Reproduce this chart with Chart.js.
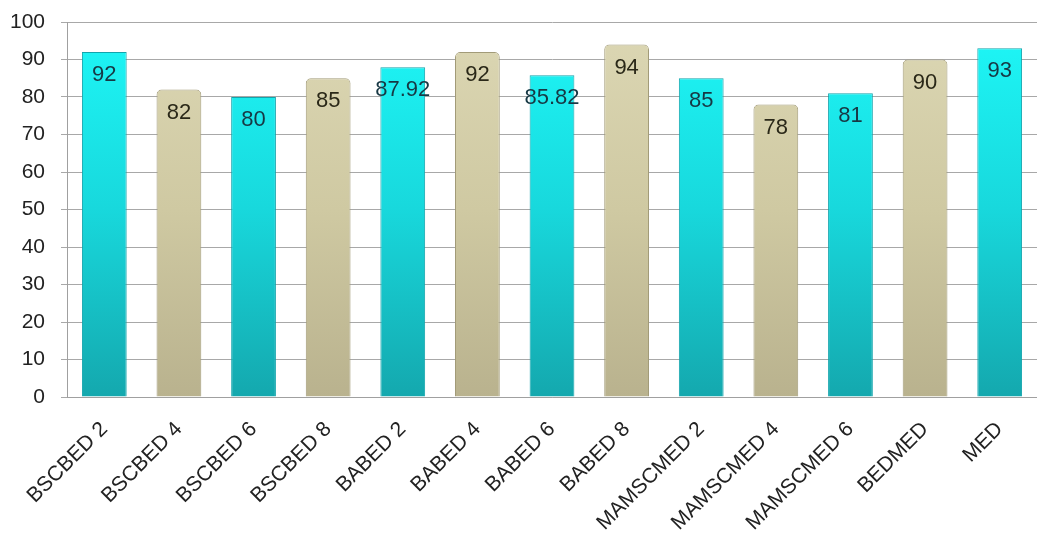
<!DOCTYPE html>
<html>
<head>
<meta charset="utf-8">
<script src="https://cdn.jsdelivr.net/npm/chart.js@4"></script>
<style>
html,body{margin:0;padding:0;background:#fff;overflow:hidden;}
#wrap{width:1037px;height:538px;}
</style>
</head>
<body>
<div id="wrap"><canvas id="c" width="1037" height="538"></canvas></div>
<script>
const categories = ["BSCBED 2","BSCBED 4","BSCBED 6","BSCBED 8","BABED 2","BABED 4","BABED 6","BABED 8","MAMSCMED 2","MAMSCMED 4","MAMSCMED 6","BEDMED","MED"];
const values = [92, 82, 80, 85, 87.92, 92, 85.82, 94, 85, 78, 81, 90, 93];
const barKinds = ["c","b","c","b","c","b","c","b","c","b","c","b","c"];
const yTicks = [0,10,20,30,40,50,60,70,80,90,100];

const FONT = "'Liberation Sans', Arial, sans-serif";

function barFill(ctx) {
  const chart = ctx.chart;
  const area = chart.chartArea;
  if (!area) return '#20e0e0';
  const kind = barKinds[ctx.dataIndex];
  const g = chart.ctx.createLinearGradient(0, area.top, 0, area.bottom);
  if (kind === 'c') {
    g.addColorStop(0, '#1ef8f8');
    g.addColorStop(0.5, '#18d8dc');
    g.addColorStop(1, '#14a8ae');
  } else {
    g.addColorStop(0, '#dcd7b4');
    g.addColorStop(0.5, '#cfc9a2');
    g.addColorStop(1, '#b9b28e');
  }
  return g;
}

const labelPlugin = {
  id: 'valLabels',
  afterDatasetsDraw(chart) {
    const ctx = chart.ctx;
    const meta = chart.getDatasetMeta(0);
    ctx.save();
    ctx.font = '22px ' + FONT;
    ctx.textAlign = 'center';
    ctx.textBaseline = 'middle';
    meta.data.forEach((bar, i) => {
      ctx.fillStyle = barKinds[i] === 'c' ? '#173844' : '#2a2818';
      ctx.fillText(String(values[i]), bar.x, bar.y + 23);
    });
    ctx.restore();
  }
};

new Chart(document.getElementById('c'), {
  type: 'bar',
  data: {
    labels: categories,
    datasets: [{
      data: values,
      backgroundColor: barFill,
      borderColor: (ctx) => barKinds[ctx.dataIndex] === 'c' ? '#12a4ac' : '#a29b78',
      borderWidth: 1,
      borderSkipped: 'bottom',
      borderRadius: (ctx) => barKinds[ctx.dataIndex] === 'c' ? 0 : {topLeft: 5, topRight: 5, bottomLeft: 0, bottomRight: 0},
      barPercentage: 0.6,
      categoryPercentage: 1.0
    }]
  },
  options: {
    responsive: false,
    animation: false,
    layout: { padding: { top: 22, right: 0, left: 0, bottom: 0 } },
    plugins: { legend: { display: false }, tooltip: { enabled: false } },
    scales: {
      x: {
        grid: { display: false },
        border: { display: true, color: '#a0a0a0', width: 1 },
        ticks: {
          color: '#222222',
          font: { family: FONT, size: 21 },
          maxRotation: 45, minRotation: 45,
          autoSkip: false,
          padding: 12
        },
        afterFit(scale) { scale.height = 141; scale.paddingLeft = 0; scale.paddingRight = 0; }
      },
      y: {
        min: 0, max: 100,
        afterBuildTicks(scale) { scale.ticks = yTicks.map(v => ({ value: v })); },
        grid: { color: '#a8a8a8', lineWidth: 1, tickLength: 6, drawTicks: true },
        border: { display: true, color: '#a0a0a0', width: 1 },
        ticks: {
          color: '#222222',
          font: { family: FONT, size: 21 },
          padding: 16
        },
        afterFit(scale) { scale.width = 67; scale.paddingTop = 0; scale.paddingBottom = 0; }
      }
    }
  },
  plugins: [labelPlugin]
});
</script>
</body>
</html>
